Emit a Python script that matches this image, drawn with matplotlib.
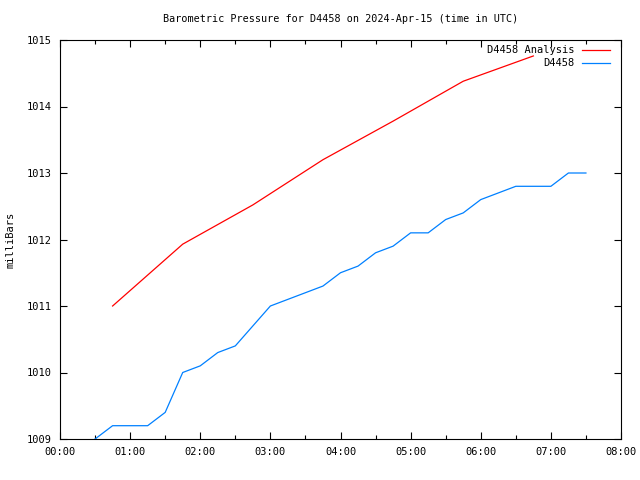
import numpy as np
import matplotlib
matplotlib.use('Agg')
import matplotlib.pyplot as plt
from matplotlib.ticker import MultipleLocator, FuncFormatter

# hours after 00:00 UTC
obs_t = [0.5, 0.75, 1.0, 1.25, 1.5, 1.75, 2.0, 2.25, 2.5, 2.75, 3.0, 3.25, 3.5, 3.75,
         4.0, 4.25, 4.5, 4.75, 5.0, 5.25, 5.5, 5.75, 6.0, 6.25, 6.5, 6.75, 7.0, 7.25, 7.5]
obs_p = [1009.0, 1009.2, 1009.2, 1009.2, 1009.4, 1010.0, 1010.1, 1010.3, 1010.4, 1010.7,
         1011.0, 1011.1, 1011.2, 1011.3, 1011.5, 1011.6, 1011.8, 1011.9, 1012.1, 1012.1,
         1012.3, 1012.4, 1012.6, 1012.7, 1012.8, 1012.8, 1012.8, 1013.0, 1013.0]

ana_t = [0.75, 1.75, 2.75, 3.75, 4.75, 5.75, 6.75]
ana_p = [1011.0, 1011.93, 1012.52, 1013.2, 1013.78, 1014.38, 1014.76]

plt.rcParams['font.family'] = 'DejaVu Sans Mono'
plt.rcParams['font.size'] = 7.5

fig = plt.figure(figsize=(6.4, 4.8), dpi=100)
ax = fig.add_axes([60/640, 41/480, 561/640, 399/480])

ax.plot(ana_t, ana_p, color='#ff0000', lw=0.9, label='D4458 Analysis')
ax.plot(obs_t, obs_p, color='#0080ff', lw=0.9, label='D4458')

ax.set_xlim(0, 8)
ax.set_ylim(1009, 1015)
ax.xaxis.set_major_locator(MultipleLocator(1))
ax.xaxis.set_minor_locator(MultipleLocator(0.5))
ax.yaxis.set_major_locator(MultipleLocator(1))
ax.xaxis.set_major_formatter(FuncFormatter(lambda v, p: '%02d:00' % int(round(v))))
ax.yaxis.set_major_formatter(FuncFormatter(lambda v, p: '%d' % int(round(v))))
ax.tick_params(which='both', direction='in', top=True, right=True, width=0.8)
ax.tick_params(which='major', length=5, pad=6)
ax.tick_params(which='minor', length=3)
for s in ax.spines.values():
    s.set_linewidth(0.8)

ax.set_title('Barometric Pressure for D4458 on 2024-Apr-15 (time in UTC)',
             fontsize=7.3, pad=13)
ax.set_ylabel('milliBars', labelpad=8)

ax.legend(loc='upper right', bbox_to_anchor=(1 - 7/561, 1 - 1/399), frameon=False,
          markerfirst=False, handlelength=2.7, borderaxespad=0, labelspacing=0.3,
          handletextpad=0.7)

fig.savefig('out.png', dpi=100)
